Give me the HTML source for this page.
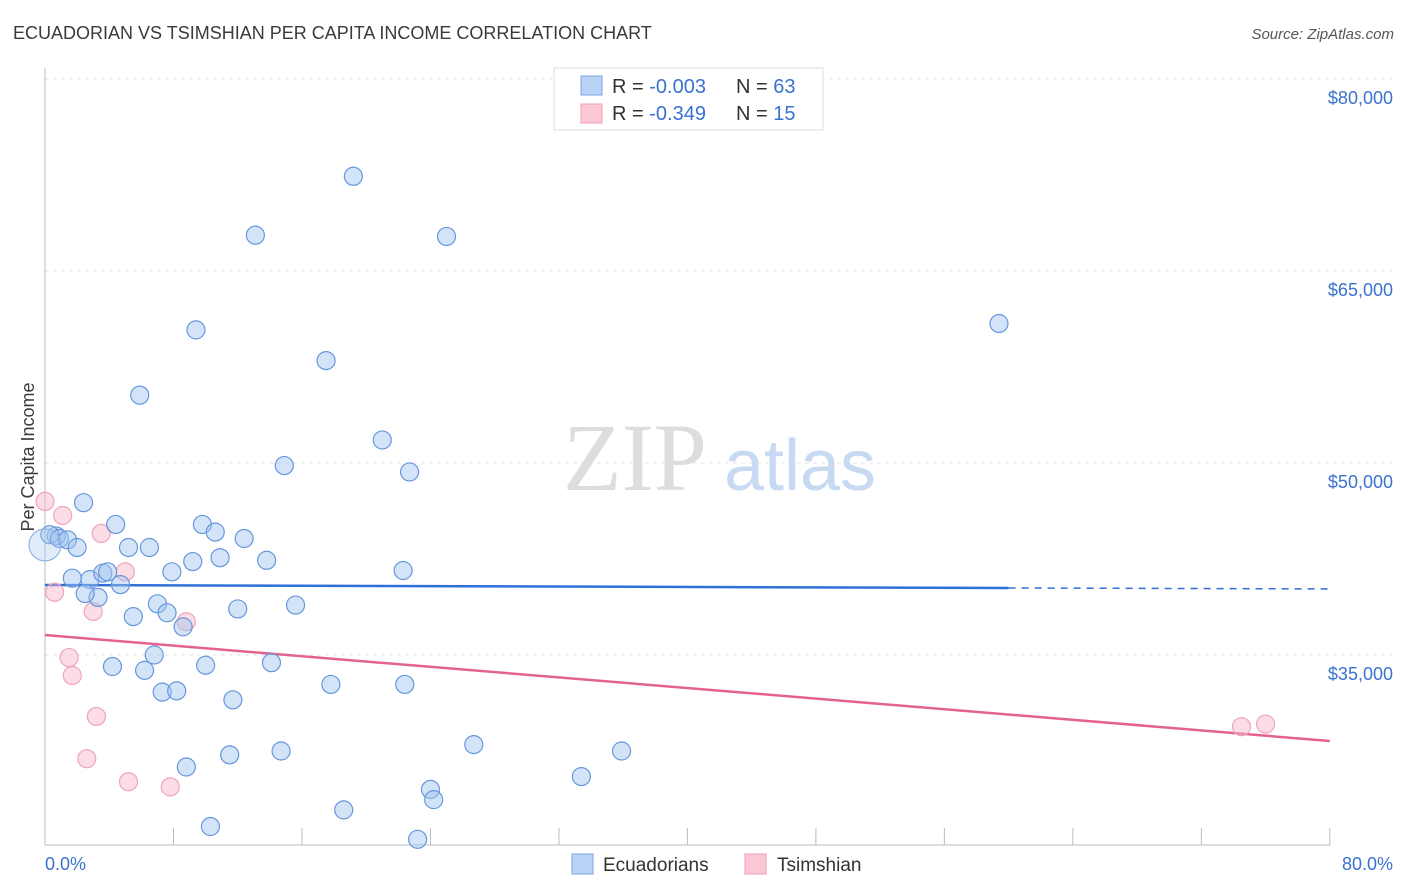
<!DOCTYPE html>
<html><head><meta charset="utf-8"><style>
body{margin:0;background:#fff;font-family:"Liberation Sans",sans-serif;}
svg{display:block}
</style></head><body>
<svg id="chart" width="1406" height="892" xmlns="http://www.w3.org/2000/svg">
<text x="13" y="39" font-size="18" fill="#3a3a3a" font-family="Liberation Sans, sans-serif">ECUADORIAN VS TSIMSHIAN PER CAPITA INCOME CORRELATION CHART</text>
<text x="1394" y="39" font-size="15" fill="#555" text-anchor="end" font-style="italic">Source: ZipAtlas.com</text>
<text transform="translate(34,457) rotate(-90)" font-size="18" fill="#3a3a3a" text-anchor="middle">Per Capita Income</text>
<g id="grid"></g>
<g><text x="635" y="490" font-size="96" fill="#ddd" font-family="Liberation Serif, serif" text-anchor="middle">ZIP</text><text x="800" y="490" font-size="72" fill="#c8daf2" text-anchor="middle">atlas</text></g>
<g id="axes"></g>
<g id="lines"></g>
<g id="points"></g>
<g>
<rect x="554" y="68" width="269" height="62" fill="#fff" stroke="#ddd"/>
<rect x="581" y="76" width="21" height="19" fill="#b8d3f5" stroke="#7aa6e0"/>
<rect x="581" y="104" width="21" height="19" fill="#fcc8d6" stroke="#ee9fb6"/>
<text x="612" y="93" font-size="20" fill="#333">R = <tspan fill="#3a72d0">-0.003</tspan></text>
<text x="736" y="93" font-size="20" fill="#333">N = <tspan fill="#3a72d0">63</tspan></text>
<text x="612" y="120" font-size="20" fill="#333">R =  <tspan fill="#3a72d0">-0.349</tspan></text>
<text x="736" y="120" font-size="20" fill="#333">N =  <tspan fill="#3a72d0">15</tspan></text>
</g>
<g>
<rect x="572" y="854" width="21" height="20" fill="#b8d3f5" stroke="#7aa6e0"/>
<text x="603" y="871" font-size="19" fill="#333">Ecuadorians</text>
<rect x="745" y="854" width="21" height="20" fill="#fcc8d6" stroke="#ee9fb6"/>
<text x="777" y="871" font-size="19" fill="#333">Tsimshian</text>
</g>
</svg>
<script>
const yTicks=[80000,65000,50000,35000];
const yTickLabels=["$80,000","$65,000","$50,000","$35,000"];
const xTickLabels=["0.0%","80.0%"];
const blueX=[19.2,13.1,25.0,9.4,59.4,17.5,5.9,21.0,14.9,22.7,2.4,4.4,9.8,10.6,12.4,0.7,0.3,0.9,1.4,2.0,5.2,6.5,13.8,9.2,10.9,7.9,22.3,1.7,2.8,3.6,3.9,4.7,3.3,2.5,7.0,12.0,15.6,5.5,7.6,8.6,6.8,4.2,6.2,10.0,14.1,7.3,8.2,17.8,22.4,11.7,26.7,14.7,11.5,35.9,8.8,33.4,24.0,24.2,18.6,10.3,23.2,0];
const blueY=[72.4,67.8,67.7,60.4,60.9,58.0,55.3,51.8,49.8,49.3,46.9,45.2,45.2,44.6,44.1,44.3,44.4,44.1,44.0,43.4,43.4,43.4,42.4,42.3,42.6,41.5,41.6,41.0,40.9,41.4,41.5,40.5,39.5,39.8,39.0,38.6,38.9,38.0,38.3,37.2,35.0,34.1,33.8,34.2,34.4,32.1,32.2,32.7,32.7,31.5,28.0,27.5,27.2,27.5,26.25,25.5,24.5,23.7,22.9,21.6,20.6,43.6];
const pinkX=[0,1.1,3.5,5.0,0.6,3.0,8.8,1.5,1.7,3.2,2.6,5.2,7.8,74.5,76.0];
const pinkY=[47.0,45.9,44.5,41.5,39.9,38.4,37.6,34.8,33.4,30.2,26.9,25.1,24.7,29.4,29.6];
const blueTrend=[40.47,40.16];
const pinkTrend=[36.56,28.28];
const NS="http://www.w3.org/2000/svg";
const xs=p=>45+p*16.06;
const ys=v=>79+(80-v)*12.8;
function mk(tag,attrs,parent,txt){const e=document.createElementNS(NS,tag);for(const k in attrs)e.setAttribute(k,attrs[k]);if(txt!==undefined)e.textContent=txt;document.getElementById(parent).appendChild(e);return e;}
yTicks.forEach((t,i)=>{
 const y=ys(t/1000);
 const g=mk('line',{x1:45,x2:1393,y1:y,y2:y,stroke:'#e3e3e3','stroke-dasharray':'4,4'},'grid');
 
 
 const l=mk('text',{x:1393,y:y+25,'font-size':18,fill:'#3a72d0','text-anchor':'end'},'grid',yTickLabels[i]);
 
 
});
let a=mk('line',{x1:45,x2:45,y1:68,y2:845,stroke:'#bbb'},'axes');


a=mk('line',{x1:45,x2:1330,y1:845,y2:845,stroke:'#bbb'},'axes');


for(let i=1;i<=10;i++){const x=xs(i*8);const t=mk('line',{x1:x,x2:x,y1:828,y2:845,stroke:'#bbb'},'axes');
 
 }
let xl=mk('text',{x:45,y:870,'font-size':18,fill:'#3a72d0'},'axes',xTickLabels[0]);


xl=mk('text',{x:1393,y:870,'font-size':18,fill:'#3a72d0','text-anchor':'end'},'axes',xTickLabels[1]);


const bAt=p=>blueTrend[0]+(blueTrend[1]-blueTrend[0])*p/80;
let ln=mk('line',{x1:xs(0),y1:ys(bAt(0)),x2:xs(60),y2:ys(bAt(60)),stroke:'#2f6fd6','stroke-width':2.5},'lines');


ln=mk('line',{x1:xs(60),y1:ys(bAt(60)),x2:xs(80),y2:ys(bAt(80)),stroke:'#2f6fd6','stroke-width':1.5,'stroke-dasharray':'7,6'},'lines');


ln=mk('line',{x1:xs(0),y1:ys(pinkTrend[0]),x2:xs(80),y2:ys(pinkTrend[1]),stroke:'#e4638e','stroke-width':2.5},'lines');


pinkX.forEach((x,i)=>{const c=mk('circle',{cx:xs(x),cy:ys(pinkY[i]),r:9,fill:'rgba(248,180,200,0.45)',stroke:'#eea5bb','stroke-width':1.2},'points');
 
 });
blueX.forEach((x,i)=>{const big=i===blueX.length-1;const c=mk('circle',{cx:xs(x),cy:ys(blueY[i]),r:big?16:9,fill:big?'rgba(170,200,240,0.35)':'rgba(160,196,240,0.45)',stroke:big?'#8fb2e6':'#6597dc','stroke-width':1.2},'points');
 
 });
</script>
</body></html>
